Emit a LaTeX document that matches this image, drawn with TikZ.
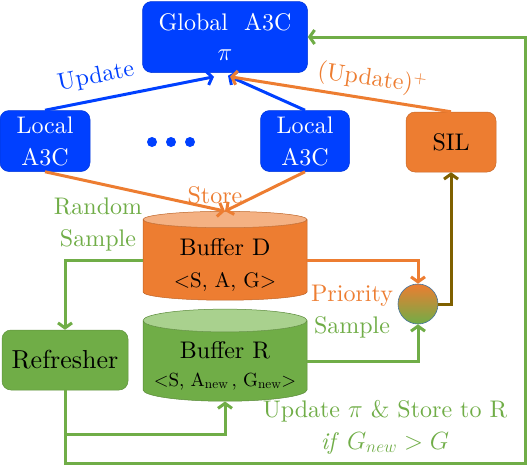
\documentclass[tikz,border=0pt]{standalone}
\usepackage{fontspec}
\setmainfont{lmroman10-regular.otf}[ItalicFont=lmroman10-italic.otf,BoldFont=lmroman10-bold.otf]
\usepackage{tikz}
\usetikzlibrary{shapes.geometric,arrows.meta,calc}
\definecolor{aBlue}{RGB}{0,64,255}
\definecolor{aOrange}{RGB}{237,125,49}
\definecolor{aOrangeL}{RGB}{244,177,131}
\definecolor{aGreen}{RGB}{112,173,71}
\definecolor{aGreenL}{RGB}{169,209,142}
\definecolor{aBrown}{RGB}{127,96,0}
\tikzset{
  bigfont/.style={font=\fontsize{24}{32}\selectfont},
  box/.style={rounded corners=9pt, draw=#1!85!black, fill=#1, line width=0.5pt,
    align=center, inner sep=1pt, bigfont},
  buffer/.style 2 args={cylinder, shape border rotate=90, aspect=0.16,
    draw=#1!80!black, line width=0.5pt, cylinder uses custom fill,
    cylinder body fill=#1, cylinder end fill=#2, align=center, inner sep=0pt,
    minimum width=164pt, minimum height=75pt, bigfont},
  arr/.style={line width=3pt, draw=#1, -{Straight Barb[length=5pt,width=14pt]}},
  lbl/.style={text=#1, bigfont, inner sep=0pt}
}
\begin{document}
\begin{tikzpicture}[x=1pt,y=-1pt]
\useasboundingbox (0,0) rectangle (532,466);
% boxes
\node[box=aBlue, text=white, minimum width=165pt, minimum height=71pt] (glob) at (225,37)
  {Global\ \ A3C\\[-2pt] $\pi$};
\node[box=aBlue, text=white, minimum width=90pt, minimum height=61pt] (locL) at (45,141)
  {Local\\ A3C};
\node[box=aBlue, text=white, minimum width=89pt, minimum height=61pt] (locR) at (305,141)
  {Local\\ A3C};
\node[box=aOrange, minimum width=90pt, minimum height=60pt] (sil) at (451,142) {SIL};
\node[box=aGreen, minimum width=126pt, minimum height=60pt, font=\fontsize{26}{32}\selectfont] (refr) at (65,360) {Refresher};
% dots
\foreach \x in {152,171,190}
  \fill[aBlue] (\x,142) circle (5pt);
% buffers
\node[buffer={aOrange}{aOrangeL}] (bufD) at (225,260)
  {\\[-4pt]Buffer D\\ {\fontsize{21}{26}\selectfont \textless S, A, G\textgreater}};
\node[buffer={aGreen}{aGreenL}, minimum height=72pt] (bufR) at (225,361)
  {\\[-6pt]Buffer R\\[-4pt] {\fontsize{19}{24}\selectfont \textless S, A\textsubscript{new}\,, G\textsubscript{new}\textgreater}};
% sampler
\node[circle, draw={rgb,255:red,65;green,113;blue,156}, line width=0.6pt,
  top color=aOrange, bottom color=aGreen, minimum size=40pt, inner sep=0pt] (samp) at (418,304) {};
% connectors
\draw[arr=aBlue] (locL.north) -- ($(glob.south)+(-11,4)$);
\draw[arr=aBlue] (locR.north) -- ($(glob.south)+(3,3)$);
\draw[arr=aOrange] (sil.north) -- ($(glob.south)+(5,4)$);
\draw[arr=aOrange] (locL.south) -- (bufD.north);
\draw[arr=aOrange] (locR.south) -- (bufD.north);
\draw[arr=aGreen] (bufD.west) -| (refr.north);
\draw[arr=aOrange] (bufD.east) -| (samp.north);
\draw[arr=aGreen] (bufR.east) -| (samp.south);
\draw[arr=aBrown] (samp.east) -| (sil.south);
\coordinate (j1) at (65,434);
\coordinate (j2) at (525,463);
\draw[arr=aGreen] (refr.south) -- (j1) -| (bufR.south);
\draw[arr=aGreen] (j1) |- (j2) |- (glob.east);
% labels
\node[lbl=aBlue, rotate=11] (tUpd) at (96,77) {Update};
\node[lbl=aOrange, rotate=-8] (tUpdP) at (372,79) {(Update)\textsuperscript{+}};
\node[lbl=aOrange] (tStore) at (215,195) {Store};
\node[lbl=aGreen, align=center] (tRand) at (98,224) {Random\\ Sample};
\node[lbl=aOrange] (tPrio) at (352,296) {Priority};
\node[lbl=aGreen] (tPsam) at (352,327) {Sample};
\node[lbl=aGreen, align=center] (tCond) at (385,427)
  {Update $\pi$ \& Store to R\\ \textit{if} $G_{new} > G$};
\end{tikzpicture}
\end{document}
